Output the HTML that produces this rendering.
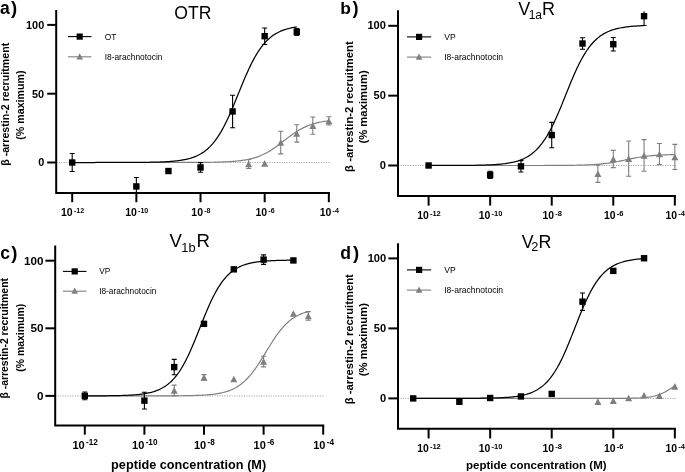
<!DOCTYPE html>
<html><head><meta charset="utf-8"><style>
html,body{margin:0;padding:0;background:#fff;overflow:hidden;width:685px;height:472px}
svg{display:block;will-change:transform}
text{font-family:"Liberation Sans",sans-serif;fill:#000}
</style></head><body>
<svg width="685" height="472" viewBox="0 0 685 472">
<rect width="685" height="472" fill="#fff"/>
<line x1="56.2" y1="162.5" x2="330" y2="162.5" stroke="#8c8c8c" stroke-width="0.75" stroke-dasharray="1.2,1.25"/>
<polyline points="72.2,162.5 73.8,162.5 75.41,162.5 77.01,162.5 78.62,162.5 80.22,162.5 81.82,162.5 83.43,162.5 85.03,162.5 86.64,162.5 88.24,162.5 89.84,162.5 91.45,162.5 93.05,162.5 94.66,162.5 96.26,162.5 97.86,162.5 99.47,162.5 101.07,162.5 102.68,162.5 104.28,162.5 105.88,162.5 107.49,162.5 109.09,162.5 110.7,162.5 112.3,162.5 113.9,162.5 115.51,162.5 117.11,162.5 118.72,162.5 120.32,162.5 121.92,162.5 123.53,162.5 125.13,162.5 126.74,162.5 128.34,162.5 129.94,162.5 131.55,162.5 133.15,162.5 134.76,162.5 136.36,162.5 137.96,162.5 139.57,162.5 141.17,162.5 142.78,162.5 144.38,162.5 145.98,162.5 147.59,162.5 149.19,162.5 150.8,162.5 152.4,162.5 154,162.5 155.61,162.5 157.21,162.5 158.82,162.49 160.42,162.49 162.02,162.49 163.63,162.49 165.23,162.49 166.84,162.49 168.44,162.49 170.04,162.49 171.65,162.49 173.25,162.48 174.86,162.48 176.46,162.48 178.06,162.48 179.67,162.48 181.27,162.47 182.88,162.47 184.48,162.47 186.08,162.46 187.69,162.46 189.29,162.45 190.9,162.45 192.5,162.44 194.1,162.43 195.71,162.42 197.31,162.41 198.92,162.4 200.52,162.39 202.12,162.38 203.73,162.36 205.33,162.35 206.94,162.33 208.54,162.31 210.14,162.28 211.75,162.26 213.35,162.23 214.96,162.2 216.56,162.16 218.16,162.12 219.77,162.07 221.37,162.02 222.98,161.96 224.58,161.9 226.18,161.82 227.79,161.74 229.39,161.65 231,161.55 232.6,161.44 234.2,161.31 235.81,161.17 237.41,161.01 239.02,160.84 240.62,160.65 242.22,160.43 243.83,160.19 245.43,159.93 247.04,159.63 248.64,159.31 250.24,158.95 251.85,158.56 253.45,158.13 255.06,157.65 256.66,157.14 258.26,156.57 259.87,155.96 261.47,155.29 263.08,154.57 264.68,153.8 266.28,152.97 267.89,152.09 269.49,151.15 271.1,150.16 272.7,149.12 274.3,148.03 275.91,146.9 277.51,145.73 279.12,144.53 280.72,143.31 282.32,142.07 283.93,140.83 285.53,139.58 287.14,138.34 288.74,137.12 290.34,135.92 291.95,134.76 293.55,133.63 295.16,132.54 296.76,131.5 298.36,130.51 299.97,129.57 301.57,128.69 303.18,127.86 304.78,127.08 306.38,126.37 307.99,125.7 309.59,125.09 311.2,124.52 312.8,124 314.4,123.53 316.01,123.1 317.61,122.7 319.22,122.35 320.82,122.02 322.42,121.73 324.03,121.46 325.63,121.22 327.24,121.01 328.84,120.82" fill="none" stroke="#7f7f7f" stroke-width="1.2"/>
<polyline points="72.2,162.5 73.6,162.5 75.01,162.5 76.41,162.5 77.81,162.5 79.22,162.5 80.62,162.5 82.02,162.5 83.43,162.5 84.83,162.5 86.23,162.5 87.64,162.5 89.04,162.5 90.45,162.5 91.85,162.5 93.25,162.5 94.66,162.5 96.06,162.49 97.46,162.49 98.87,162.49 100.27,162.49 101.67,162.49 103.08,162.49 104.48,162.49 105.88,162.49 107.29,162.49 108.69,162.49 110.09,162.49 111.5,162.48 112.9,162.48 114.31,162.48 115.71,162.48 117.11,162.48 118.52,162.47 119.92,162.47 121.32,162.47 122.73,162.47 124.13,162.46 125.53,162.46 126.94,162.45 128.34,162.45 129.74,162.44 131.15,162.44 132.55,162.43 133.95,162.42 135.36,162.42 136.76,162.41 138.16,162.4 139.57,162.39 140.97,162.37 142.38,162.36 143.78,162.35 145.18,162.33 146.59,162.31 147.99,162.29 149.39,162.27 150.8,162.24 152.2,162.22 153.6,162.19 155.01,162.15 156.41,162.12 157.81,162.08 159.22,162.03 160.62,161.98 162.02,161.93 163.43,161.87 164.83,161.8 166.23,161.73 167.64,161.65 169.04,161.56 170.44,161.46 171.85,161.35 173.25,161.23 174.66,161.09 176.06,160.95 177.46,160.78 178.87,160.61 180.27,160.41 181.67,160.19 183.08,159.95 184.48,159.68 185.88,159.39 187.29,159.07 188.69,158.72 190.09,158.33 191.5,157.9 192.9,157.43 194.3,156.92 195.71,156.35 197.11,155.73 198.51,155.05 199.92,154.31 201.32,153.5 202.73,152.61 204.13,151.65 205.53,150.6 206.94,149.46 208.34,148.22 209.74,146.88 211.15,145.43 212.55,143.86 213.95,142.18 215.36,140.37 216.76,138.44 218.16,136.37 219.57,134.17 220.97,131.84 222.37,129.37 223.78,126.77 225.18,124.04 226.58,121.19 227.99,118.22 229.39,115.14 230.8,111.96 232.2,108.7 233.6,105.37 235.01,101.98 236.41,98.54 237.81,95.09 239.22,91.62 240.62,88.17 242.02,84.74 243.43,81.36 244.83,78.04 246.23,74.79 247.64,71.64 249.04,68.58 250.44,65.63 251.85,62.8 253.25,60.1 254.65,57.53 256.06,55.09 257.46,52.78 258.87,50.61 260.27,48.57 261.67,46.66 263.08,44.88 264.48,43.22 265.88,41.67 267.29,40.25 268.69,38.93 270.09,37.71 271.5,36.58 272.9,35.55 274.3,34.6 275.71,33.73 277.11,32.94 278.51,32.21 279.92,31.54 281.32,30.93 282.72,30.38 284.13,29.87 285.53,29.41 286.94,28.99 288.34,28.61 289.74,28.26 291.15,27.95 292.55,27.66 293.95,27.4 295.36,27.17 296.76,26.95" fill="none" stroke="#000" stroke-width="1.25"/>
<path d="M248.64,159.47V168.55M246.14,159.47h5M246.14,168.55h5" stroke="#7f7f7f" stroke-width="1.1" fill="none"/>
<path d="M248.64,160.71L252.14,167.31L245.14,167.31Z" fill="#7f7f7f"/>
<path d="M264.68,160.09L268.18,166.69L261.18,166.69Z" fill="#7f7f7f"/>
<path d="M280.72,131.26V153.83M278.22,131.26h5M278.22,153.83h5" stroke="#7f7f7f" stroke-width="1.1" fill="none"/>
<path d="M280.72,139.25L284.22,145.85L277.22,145.85Z" fill="#7f7f7f"/>
<path d="M296.76,124.8V142.14M294.26,124.8h5M294.26,142.14h5" stroke="#7f7f7f" stroke-width="1.1" fill="none"/>
<path d="M296.76,130.17L300.26,136.77L293.26,136.77Z" fill="#7f7f7f"/>
<path d="M312.8,116.95V134.29M310.3,116.95h5M310.3,134.29h5" stroke="#7f7f7f" stroke-width="1.1" fill="none"/>
<path d="M312.8,122.32L316.3,128.92L309.3,128.92Z" fill="#7f7f7f"/>
<path d="M328.84,116.82V125.07M326.34,116.82h5M326.34,125.07h5" stroke="#7f7f7f" stroke-width="1.1" fill="none"/>
<path d="M328.84,117.64L332.34,124.24L325.34,124.24Z" fill="#7f7f7f"/>
<path d="M72.2,153.56V171.44M69.7,153.56h5M69.7,171.44h5" stroke="#000" stroke-width="1.1" fill="none"/>
<rect x="69" y="159.3" width="6.4" height="6.4" fill="#000"/>
<path d="M136.36,177.5V192.9M133.86,177.5h5" stroke="#000" stroke-width="1.1" fill="none"/>
<rect x="133.16" y="183.24" width="6.4" height="6.4" fill="#000"/>
<rect x="165.24" y="167.83" width="6.4" height="6.4" fill="#000"/>
<path d="M200.52,162.64V172.27M198.02,162.64h5M198.02,172.27h5" stroke="#000" stroke-width="1.1" fill="none"/>
<rect x="197.32" y="164.25" width="6.4" height="6.4" fill="#000"/>
<path d="M232.6,95.21V127.69M230.1,95.21h5M230.1,127.69h5" stroke="#000" stroke-width="1.1" fill="none"/>
<rect x="229.4" y="108.25" width="6.4" height="6.4" fill="#000"/>
<path d="M264.68,27.93V44.44M262.18,27.93h5M262.18,44.44h5" stroke="#000" stroke-width="1.1" fill="none"/>
<rect x="261.48" y="32.98" width="6.4" height="6.4" fill="#000"/>
<path d="M296.76,28.48V35.36M294.26,28.48h5M294.26,35.36h5" stroke="#000" stroke-width="1.1" fill="none"/>
<rect x="293.56" y="28.72" width="6.4" height="6.4" fill="#000"/>
<path d="M56.2,10V192.9H330" stroke="#000" stroke-width="2.0" fill="none" stroke-linejoin="miter"/>
<line x1="47.2" y1="162.5" x2="56.2" y2="162.5" stroke="#000" stroke-width="2.0"/>
<text x="44.2" y="166.4" text-anchor="end" font-weight="bold" font-size="10.9">0</text>
<line x1="47.2" y1="93.7" x2="56.2" y2="93.7" stroke="#000" stroke-width="2.0"/>
<text x="44.2" y="97.6" text-anchor="end" font-weight="bold" font-size="10.9">50</text>
<line x1="47.2" y1="24.9" x2="56.2" y2="24.9" stroke="#000" stroke-width="2.0"/>
<text x="44.2" y="28.8" text-anchor="end" font-weight="bold" font-size="10.9">100</text>
<line x1="72.2" y1="192.9" x2="72.2" y2="202.2" stroke="#000" stroke-width="2.0"/>
<text x="72.6" y="216.2" text-anchor="middle" font-weight="bold" font-size="10.5">10<tspan font-size="7.1" dx="1.2" dy="-3.2">-12</tspan></text>
<line x1="136.36" y1="192.9" x2="136.36" y2="202.2" stroke="#000" stroke-width="2.0"/>
<text x="136.76" y="216.2" text-anchor="middle" font-weight="bold" font-size="10.5">10<tspan font-size="7.1" dx="1.2" dy="-3.2">-10</tspan></text>
<line x1="200.52" y1="192.9" x2="200.52" y2="202.2" stroke="#000" stroke-width="2.0"/>
<text x="200.92" y="216.2" text-anchor="middle" font-weight="bold" font-size="10.5">10<tspan font-size="7.1" dx="1.2" dy="-3.2">-8</tspan></text>
<line x1="264.68" y1="192.9" x2="264.68" y2="202.2" stroke="#000" stroke-width="2.0"/>
<text x="265.08" y="216.2" text-anchor="middle" font-weight="bold" font-size="10.5">10<tspan font-size="7.1" dx="1.2" dy="-3.2">-6</tspan></text>
<line x1="328.84" y1="192.9" x2="328.84" y2="202.2" stroke="#000" stroke-width="2.0"/>
<text x="329.24" y="216.2" text-anchor="middle" font-weight="bold" font-size="10.5">10<tspan font-size="7.1" dx="1.2" dy="-3.2">-4</tspan></text>
<text x="174.3" y="18.5" font-size="17.6">OTR</text>
<text x="0.1" y="13.9" font-weight="bold" font-size="17.6">a</text>
<text x="11.0" y="13.9" font-weight="bold" font-size="18.5">)</text>
<line x1="67.9" y1="36.6" x2="91.5" y2="36.6" stroke="#000" stroke-width="1.1"/>
<rect x="76.6" y="33.5" width="6.2" height="6.2" fill="#000"/>
<line x1="67.9" y1="56.8" x2="91.5" y2="56.8" stroke="#7f7f7f" stroke-width="1.1"/>
<path d="M79.7,53.2L83,59.4L76.4,59.4Z" fill="#7f7f7f"/>
<text x="104.7" y="39.6" font-size="8.4">OT</text>
<text x="104.7" y="59.8" font-size="8.4">I8-arachnotocin</text>
<text transform="translate(8.6,104.3) rotate(-90)" text-anchor="middle" font-weight="bold" font-size="10.65">β -arrestin-2 recruitment</text>
<text transform="translate(24.2,105.1) rotate(-90)" text-anchor="middle" font-weight="bold" font-size="10.65">(% maximum)</text>
<line x1="398" y1="165.5" x2="675.9" y2="165.5" stroke="#8c8c8c" stroke-width="0.75" stroke-dasharray="1.2,1.25"/>
<polyline points="428.6,165.5 430.14,165.5 431.68,165.5 433.22,165.5 434.76,165.5 436.3,165.5 437.83,165.5 439.37,165.5 440.91,165.5 442.45,165.5 443.99,165.5 445.53,165.5 447.07,165.5 448.61,165.5 450.15,165.5 451.69,165.5 453.22,165.5 454.76,165.5 456.3,165.5 457.84,165.5 459.38,165.5 460.92,165.5 462.46,165.5 464,165.5 465.54,165.5 467.08,165.5 468.61,165.5 470.15,165.5 471.69,165.5 473.23,165.5 474.77,165.5 476.31,165.5 477.85,165.5 479.39,165.5 480.93,165.5 482.47,165.5 484,165.5 485.54,165.5 487.08,165.5 488.62,165.5 490.16,165.5 491.7,165.5 493.24,165.5 494.78,165.5 496.32,165.5 497.86,165.5 499.39,165.5 500.93,165.5 502.47,165.5 504.01,165.5 505.55,165.5 507.09,165.5 508.63,165.5 510.17,165.5 511.71,165.5 513.25,165.5 514.78,165.5 516.32,165.5 517.86,165.5 519.4,165.5 520.94,165.5 522.48,165.5 524.02,165.49 525.56,165.49 527.1,165.49 528.63,165.49 530.17,165.49 531.71,165.49 533.25,165.49 534.79,165.49 536.33,165.49 537.87,165.48 539.41,165.48 540.95,165.48 542.49,165.48 544.03,165.48 545.56,165.47 547.1,165.47 548.64,165.46 550.18,165.46 551.72,165.46 553.26,165.45 554.8,165.44 556.34,165.44 557.88,165.43 559.41,165.42 560.95,165.41 562.49,165.4 564.03,165.39 565.57,165.38 567.11,165.36 568.65,165.34 570.19,165.33 571.73,165.3 573.27,165.28 574.81,165.26 576.34,165.23 577.88,165.19 579.42,165.16 580.96,165.12 582.5,165.07 584.04,165.02 585.58,164.97 587.12,164.9 588.66,164.84 590.2,164.76 591.73,164.68 593.27,164.59 594.81,164.48 596.35,164.37 597.89,164.25 599.43,164.12 600.97,163.97 602.51,163.81 604.05,163.64 605.59,163.46 607.12,163.26 608.66,163.04 610.2,162.81 611.74,162.57 613.28,162.32 614.82,162.05 616.36,161.77 617.9,161.48 619.44,161.18 620.98,160.87 622.51,160.55 624.05,160.23 625.59,159.91 627.13,159.59 628.67,159.27 630.21,158.96 631.75,158.65 633.29,158.35 634.83,158.06 636.37,157.77 637.9,157.51 639.44,157.25 640.98,157.01 642.52,156.78 644.06,156.57 645.6,156.37 647.14,156.18 648.68,156.01 650.22,155.85 651.75,155.71 653.29,155.57 654.83,155.45 656.37,155.34 657.91,155.24 659.45,155.15 660.99,155.06 662.53,154.99 664.07,154.92 665.61,154.86 667.14,154.8 668.68,154.75 670.22,154.71 671.76,154.67 673.3,154.63 674.84,154.6" fill="none" stroke="#7f7f7f" stroke-width="1.2"/>
<polyline points="428.6,165.49 429.95,165.49 431.29,165.49 432.64,165.49 433.99,165.49 435.33,165.49 436.68,165.49 438.03,165.48 439.37,165.48 440.72,165.48 442.07,165.48 443.41,165.48 444.76,165.47 446.11,165.47 447.45,165.47 448.8,165.47 450.15,165.46 451.49,165.46 452.84,165.45 454.19,165.45 455.53,165.44 456.88,165.44 458.23,165.43 459.57,165.42 460.92,165.42 462.27,165.41 463.61,165.4 464.96,165.39 466.31,165.38 467.65,165.37 469,165.35 470.35,165.34 471.69,165.32 473.04,165.3 474.39,165.29 475.73,165.26 477.08,165.24 478.43,165.21 479.77,165.19 481.12,165.15 482.47,165.12 483.81,165.08 485.16,165.04 486.5,164.99 487.85,164.94 489.2,164.89 490.54,164.82 491.89,164.76 493.24,164.68 494.58,164.6 495.93,164.51 497.28,164.41 498.62,164.3 499.97,164.19 501.32,164.06 502.66,163.91 504.01,163.75 505.36,163.58 506.7,163.39 508.05,163.18 509.4,162.96 510.74,162.7 512.09,162.43 513.44,162.13 514.78,161.8 516.13,161.44 517.48,161.04 518.82,160.61 520.17,160.14 521.52,159.62 522.86,159.06 524.21,158.45 525.56,157.78 526.9,157.05 528.25,156.26 529.6,155.39 530.94,154.46 532.29,153.44 533.64,152.35 534.98,151.16 536.33,149.88 537.68,148.5 539.02,147.02 540.37,145.43 541.72,143.73 543.06,141.91 544.41,139.97 545.76,137.91 547.1,135.73 548.45,133.42 549.8,130.99 551.14,128.44 552.49,125.77 553.84,122.99 555.18,120.1 556.53,117.11 557.88,114.03 559.22,110.87 560.57,107.65 561.92,104.37 563.26,101.05 564.61,97.7 565.96,94.34 567.3,90.99 568.65,87.65 570,84.35 571.34,81.1 572.69,77.91 574.04,74.8 575.38,71.77 576.73,68.84 578.08,66.01 579.42,63.29 580.77,60.69 582.12,58.21 583.46,55.85 584.81,53.61 586.16,51.5 587.5,49.51 588.85,47.64 590.2,45.89 591.54,44.25 592.89,42.72 594.23,41.3 595.58,39.98 596.93,38.75 598.27,37.62 599.62,36.57 600.97,35.6 602.31,34.71 603.66,33.89 605.01,33.13 606.35,32.44 607.7,31.8 609.05,31.21 610.39,30.68 611.74,30.19 613.09,29.74 614.43,29.33 615.78,28.95 617.13,28.61 618.47,28.3 619.82,28.01 621.17,27.75 622.51,27.51 623.86,27.3 625.21,27.1 626.55,26.92 627.9,26.76 629.25,26.61 630.59,26.47 631.94,26.35 633.29,26.23 634.63,26.13 635.98,26.04 637.33,25.95 638.67,25.88 640.02,25.81 641.37,25.74 642.71,25.68 644.06,25.63" fill="none" stroke="#000" stroke-width="1.25"/>
<path d="M597.89,165.08V182.4M595.39,165.08h5M595.39,182.4h5" stroke="#7f7f7f" stroke-width="1.1" fill="none"/>
<path d="M597.89,170.44L601.39,177.04L594.39,177.04Z" fill="#7f7f7f"/>
<path d="M613.28,150.34V167.67M610.78,150.34h5M610.78,167.67h5" stroke="#7f7f7f" stroke-width="1.1" fill="none"/>
<path d="M613.28,155.7L616.78,162.3L609.78,162.3Z" fill="#7f7f7f"/>
<path d="M628.67,141.05V176.26M626.17,141.05h5M626.17,176.26h5" stroke="#7f7f7f" stroke-width="1.1" fill="none"/>
<path d="M628.67,155.35L632.17,161.95L625.17,161.95Z" fill="#7f7f7f"/>
<path d="M644.06,139.66V171.23M641.56,139.66h5M641.56,171.23h5" stroke="#7f7f7f" stroke-width="1.1" fill="none"/>
<path d="M644.06,152.14L647.56,158.74L640.56,158.74Z" fill="#7f7f7f"/>
<path d="M659.45,143.43V164.66M656.95,143.43h5M656.95,164.66h5" stroke="#7f7f7f" stroke-width="1.1" fill="none"/>
<path d="M659.45,150.74L662.95,157.34L655.95,157.34Z" fill="#7f7f7f"/>
<path d="M674.84,144.41V169.55M672.34,144.41h5M672.34,169.55h5" stroke="#7f7f7f" stroke-width="1.1" fill="none"/>
<path d="M674.84,153.68L678.34,160.28L671.34,160.28Z" fill="#7f7f7f"/>
<rect x="425.4" y="162.3" width="6.4" height="6.4" fill="#000"/>
<path d="M490.16,171.23V178.49M487.66,171.23h5M487.66,178.49h5" stroke="#000" stroke-width="1.1" fill="none"/>
<rect x="486.96" y="171.66" width="6.4" height="6.4" fill="#000"/>
<path d="M520.94,160.61V172.07M518.44,160.61h5M518.44,172.07h5" stroke="#000" stroke-width="1.1" fill="none"/>
<rect x="517.74" y="163.14" width="6.4" height="6.4" fill="#000"/>
<path d="M551.72,122.33V147.76M549.22,122.33h5M549.22,147.76h5" stroke="#000" stroke-width="1.1" fill="none"/>
<rect x="548.52" y="131.85" width="6.4" height="6.4" fill="#000"/>
<path d="M582.5,37.81V49.27M580,37.81h5M580,49.27h5" stroke="#000" stroke-width="1.1" fill="none"/>
<rect x="579.3" y="40.34" width="6.4" height="6.4" fill="#000"/>
<path d="M613.28,37.53V50.95M610.78,37.53h5M610.78,50.95h5" stroke="#000" stroke-width="1.1" fill="none"/>
<rect x="610.08" y="41.04" width="6.4" height="6.4" fill="#000"/>
<path d="M644.06,11.2V25.52M641.56,25.52h5" stroke="#000" stroke-width="1.1" fill="none"/>
<rect x="640.86" y="12.96" width="6.4" height="6.4" fill="#000"/>
<path d="M398,10.2V196H675.9" stroke="#000" stroke-width="2.0" fill="none" stroke-linejoin="miter"/>
<line x1="388.2" y1="165.5" x2="398" y2="165.5" stroke="#000" stroke-width="2.0"/>
<text x="385.9" y="169.1" text-anchor="end" font-weight="bold" font-size="11.1">0</text>
<line x1="388.2" y1="95.65" x2="398" y2="95.65" stroke="#000" stroke-width="2.0"/>
<text x="385.9" y="99.25" text-anchor="end" font-weight="bold" font-size="11.1">50</text>
<line x1="388.2" y1="25.8" x2="398" y2="25.8" stroke="#000" stroke-width="2.0"/>
<text x="385.9" y="29.4" text-anchor="end" font-weight="bold" font-size="11.1">100</text>
<line x1="428.6" y1="196" x2="428.6" y2="205.6" stroke="#000" stroke-width="2.0"/>
<text x="429" y="219" text-anchor="middle" font-weight="bold" font-size="10.4">10<tspan font-size="7.5" dx="1.2" dy="-2.9">-12</tspan></text>
<line x1="490.16" y1="196" x2="490.16" y2="205.6" stroke="#000" stroke-width="2.0"/>
<text x="490.56" y="219" text-anchor="middle" font-weight="bold" font-size="10.4">10<tspan font-size="7.5" dx="1.2" dy="-2.9">-10</tspan></text>
<line x1="551.72" y1="196" x2="551.72" y2="205.6" stroke="#000" stroke-width="2.0"/>
<text x="552.12" y="219" text-anchor="middle" font-weight="bold" font-size="10.4">10<tspan font-size="7.5" dx="1.2" dy="-2.9">-8</tspan></text>
<line x1="613.28" y1="196" x2="613.28" y2="205.6" stroke="#000" stroke-width="2.0"/>
<text x="613.68" y="219" text-anchor="middle" font-weight="bold" font-size="10.4">10<tspan font-size="7.5" dx="1.2" dy="-2.9">-6</tspan></text>
<line x1="674.84" y1="196" x2="674.84" y2="205.6" stroke="#000" stroke-width="2.0"/>
<text x="675.24" y="219" text-anchor="middle" font-weight="bold" font-size="10.4">10<tspan font-size="7.5" dx="1.2" dy="-2.9">-4</tspan></text>
<text x="518.3" y="14.6" font-size="18">V</text><text x="528.7" y="18.5" font-size="12">1a</text><text x="541.9" y="14.6" font-size="18">R</text>
<text x="340.3" y="13.6" font-weight="bold" font-size="17.4">b</text>
<text x="352.6" y="13.6" font-weight="bold" font-size="18.3">)</text>
<line x1="407" y1="36.9" x2="431.2" y2="36.9" stroke="#000" stroke-width="1.1"/>
<rect x="416" y="33.8" width="6.2" height="6.2" fill="#000"/>
<line x1="407" y1="57.1" x2="431.2" y2="57.1" stroke="#7f7f7f" stroke-width="1.1"/>
<path d="M419.1,53.5L422.4,59.7L415.8,59.7Z" fill="#7f7f7f"/>
<text x="444.2" y="39.9" font-size="8.55">VP</text>
<text x="444.2" y="60.1" font-size="8.55">I8-arachnotocin</text>
<text transform="translate(353.0,106.6) rotate(-90)" text-anchor="middle" font-weight="bold" font-size="11.3">β -arrestin-2 recruitment</text>
<text transform="translate(366.6,106.9) rotate(-90)" text-anchor="middle" font-weight="bold" font-size="11.3">(% maximum)</text>
<line x1="55.2" y1="395.9" x2="324.2" y2="395.9" stroke="#8c8c8c" stroke-width="0.75" stroke-dasharray="1.2,1.25"/>
<polyline points="84.8,395.9 86.2,395.9 87.59,395.9 88.99,395.9 90.39,395.9 91.78,395.9 93.18,395.9 94.58,395.9 95.97,395.9 97.37,395.9 98.77,395.9 100.17,395.9 101.56,395.9 102.96,395.9 104.36,395.9 105.75,395.9 107.15,395.9 108.55,395.9 109.94,395.9 111.34,395.9 112.74,395.9 114.13,395.9 115.53,395.9 116.93,395.9 118.32,395.9 119.72,395.9 121.12,395.9 122.52,395.9 123.91,395.9 125.31,395.9 126.71,395.9 128.1,395.9 129.5,395.9 130.9,395.9 132.29,395.9 133.69,395.9 135.09,395.9 136.48,395.89 137.88,395.89 139.28,395.89 140.68,395.89 142.07,395.89 143.47,395.89 144.87,395.89 146.26,395.89 147.66,395.89 149.06,395.89 150.45,395.88 151.85,395.88 153.25,395.88 154.64,395.88 156.04,395.88 157.44,395.87 158.83,395.87 160.23,395.87 161.63,395.86 163.03,395.86 164.42,395.86 165.82,395.85 167.22,395.85 168.61,395.84 170.01,395.83 171.41,395.83 172.8,395.82 174.2,395.81 175.6,395.8 176.99,395.79 178.39,395.78 179.79,395.76 181.18,395.75 182.58,395.73 183.98,395.71 185.38,395.69 186.77,395.67 188.17,395.64 189.57,395.61 190.96,395.58 192.36,395.55 193.76,395.51 195.15,395.47 196.55,395.42 197.95,395.37 199.34,395.31 200.74,395.24 202.14,395.17 203.53,395.09 204.93,395 206.33,394.91 207.72,394.8 209.12,394.68 210.52,394.55 211.92,394.4 213.31,394.24 214.71,394.06 216.11,393.86 217.5,393.64 218.9,393.4 220.3,393.13 221.69,392.83 223.09,392.51 224.49,392.15 225.88,391.75 227.28,391.32 228.68,390.84 230.07,390.32 231.47,389.75 232.87,389.12 234.27,388.44 235.66,387.69 237.06,386.88 238.46,385.99 239.85,385.04 241.25,384 242.65,382.88 244.04,381.68 245.44,380.38 246.84,379 248.23,377.52 249.63,375.96 251.03,374.3 252.43,372.55 253.82,370.71 255.22,368.78 256.62,366.78 258.01,364.71 259.41,362.57 260.81,360.38 262.2,358.14 263.6,355.88 265,353.58 266.39,351.29 267.79,348.99 269.19,346.71 270.58,344.46 271.98,342.25 273.38,340.09 274.77,337.99 276.17,335.95 277.57,334 278.97,332.12 280.36,330.34 281.76,328.64 283.16,327.03 284.55,325.52 285.95,324.1 287.35,322.77 288.74,321.53 290.14,320.37 291.54,319.3 292.93,318.31 294.33,317.4 295.73,316.56 297.12,315.78 298.52,315.07 299.92,314.42 301.32,313.83 302.71,313.29 304.11,312.79 305.51,312.34 306.9,311.93 308.3,311.56" fill="none" stroke="#7f7f7f" stroke-width="1.2"/>
<polyline points="84.8,395.87 86.1,395.87 87.41,395.87 88.71,395.86 90.02,395.86 91.32,395.86 92.62,395.85 93.93,395.85 95.23,395.84 96.53,395.84 97.84,395.83 99.14,395.82 100.45,395.81 101.75,395.81 103.05,395.8 104.36,395.79 105.66,395.77 106.96,395.76 108.27,395.75 109.57,395.73 110.88,395.72 112.18,395.7 113.48,395.68 114.79,395.65 116.09,395.63 117.39,395.6 118.7,395.57 120,395.54 121.3,395.5 122.61,395.46 123.91,395.41 125.22,395.37 126.52,395.31 127.82,395.25 129.13,395.19 130.43,395.11 131.73,395.04 133.04,394.95 134.34,394.85 135.65,394.75 136.95,394.63 138.25,394.5 139.56,394.36 140.86,394.21 142.17,394.04 143.47,393.85 144.77,393.65 146.08,393.43 147.38,393.18 148.68,392.91 149.99,392.61 151.29,392.29 152.6,391.93 153.9,391.54 155.2,391.11 156.51,390.65 157.81,390.14 159.11,389.58 160.42,388.97 161.72,388.3 163.03,387.58 164.33,386.79 165.63,385.94 166.94,385 168.24,384 169.54,382.9 170.85,381.72 172.15,380.44 173.45,379.07 174.76,377.59 176.06,376 177.37,374.3 178.67,372.49 179.97,370.56 181.28,368.5 182.58,366.32 183.88,364.03 185.19,361.61 186.49,359.07 187.8,356.41 189.1,353.65 190.4,350.79 191.71,347.83 193.01,344.78 194.32,341.66 195.62,338.48 196.92,335.25 198.23,331.99 199.53,328.71 200.83,325.43 202.14,322.16 203.44,318.91 204.75,315.71 206.05,312.56 207.35,309.48 208.66,306.48 209.96,303.57 211.26,300.76 212.57,298.06 213.87,295.46 215.18,292.99 216.48,290.64 217.78,288.4 219.09,286.29 220.39,284.3 221.69,282.44 223,280.68 224.3,279.05 225.61,277.52 226.91,276.1 228.21,274.78 229.52,273.55 230.82,272.42 232.12,271.37 233.43,270.4 234.73,269.51 236.04,268.7 237.34,267.94 238.64,267.25 239.95,266.62 241.25,266.04 242.55,265.51 243.86,265.02 245.16,264.57 246.46,264.17 247.77,263.8 249.07,263.46 250.38,263.15 251.68,262.87 252.98,262.61 254.29,262.37 255.59,262.16 256.9,261.97 258.2,261.79 259.5,261.63 260.81,261.48 262.11,261.35 263.41,261.23 264.72,261.12 266.02,261.02 267.32,260.93 268.63,260.84 269.93,260.77 271.24,260.7 272.54,260.64 273.84,260.58 275.15,260.53 276.45,260.48 277.75,260.44 279.06,260.4 280.36,260.37 281.67,260.34 282.97,260.31 284.27,260.28 285.58,260.26 286.88,260.24 288.19,260.22 289.49,260.2 290.79,260.18 292.1,260.17 293.4,260.16" fill="none" stroke="#000" stroke-width="1.25"/>
<path d="M174.2,385.08V395.63M171.7,385.08h5M171.7,395.63h5" stroke="#7f7f7f" stroke-width="1.1" fill="none"/>
<path d="M174.2,387.06L177.7,393.66L170.7,393.66Z" fill="#7f7f7f"/>
<path d="M204,374.67V380.08M201.5,374.67h5M201.5,380.08h5" stroke="#7f7f7f" stroke-width="1.1" fill="none"/>
<path d="M204,374.08L207.5,380.68L200.5,380.68Z" fill="#7f7f7f"/>
<path d="M233.8,375.7L237.3,382.3L230.3,382.3Z" fill="#7f7f7f"/>
<path d="M263.6,356.29V366.83M261.1,356.29h5M261.1,366.83h5" stroke="#7f7f7f" stroke-width="1.1" fill="none"/>
<path d="M263.6,358.26L267.1,364.86L260.1,364.86Z" fill="#7f7f7f"/>
<path d="M293.4,310.26L296.9,316.86L289.9,316.86Z" fill="#7f7f7f"/>
<path d="M308.3,311.67V320.32M305.8,311.67h5M305.8,320.32h5" stroke="#7f7f7f" stroke-width="1.1" fill="none"/>
<path d="M308.3,312.7L311.8,319.3L304.8,319.3Z" fill="#7f7f7f"/>
<path d="M84.8,391.98V399.82M82.3,391.98h5M82.3,399.82h5" stroke="#000" stroke-width="1.1" fill="none"/>
<rect x="81.6" y="392.7" width="6.4" height="6.4" fill="#000"/>
<path d="M144.4,392.25V409.01M141.9,392.25h5M141.9,409.01h5" stroke="#000" stroke-width="1.1" fill="none"/>
<rect x="141.2" y="397.43" width="6.4" height="6.4" fill="#000"/>
<path d="M174.2,359.4V374.81M171.7,359.4h5M171.7,374.81h5" stroke="#000" stroke-width="1.1" fill="none"/>
<rect x="171" y="363.9" width="6.4" height="6.4" fill="#000"/>
<rect x="200.8" y="320.64" width="6.4" height="6.4" fill="#000"/>
<rect x="230.6" y="266.15" width="6.4" height="6.4" fill="#000"/>
<path d="M263.6,254.89V264.35M261.1,254.89h5M261.1,264.35h5" stroke="#000" stroke-width="1.1" fill="none"/>
<rect x="260.4" y="256.42" width="6.4" height="6.4" fill="#000"/>
<rect x="290.2" y="257.23" width="6.4" height="6.4" fill="#000"/>
<path d="M55.2,245.6V425.4H324.2" stroke="#000" stroke-width="2.0" fill="none" stroke-linejoin="miter"/>
<line x1="45.4" y1="395.9" x2="55.2" y2="395.9" stroke="#000" stroke-width="2.0"/>
<text x="43.4" y="399.7" text-anchor="end" font-weight="bold" font-size="11.7">0</text>
<line x1="45.4" y1="328.3" x2="55.2" y2="328.3" stroke="#000" stroke-width="2.0"/>
<text x="43.4" y="332.1" text-anchor="end" font-weight="bold" font-size="11.7">50</text>
<line x1="45.4" y1="260.7" x2="55.2" y2="260.7" stroke="#000" stroke-width="2.0"/>
<text x="43.4" y="264.5" text-anchor="end" font-weight="bold" font-size="11.7">100</text>
<line x1="84.8" y1="425.4" x2="84.8" y2="434.7" stroke="#000" stroke-width="2.0"/>
<text x="85.2" y="448.8" text-anchor="middle" font-weight="bold" font-size="11.0">10<tspan font-size="8.2" dx="1.3" dy="-3.6">-12</tspan></text>
<line x1="144.4" y1="425.4" x2="144.4" y2="434.7" stroke="#000" stroke-width="2.0"/>
<text x="144.8" y="448.8" text-anchor="middle" font-weight="bold" font-size="11.0">10<tspan font-size="8.2" dx="1.3" dy="-3.6">-10</tspan></text>
<line x1="204" y1="425.4" x2="204" y2="434.7" stroke="#000" stroke-width="2.0"/>
<text x="204.4" y="448.8" text-anchor="middle" font-weight="bold" font-size="11.0">10<tspan font-size="8.2" dx="1.3" dy="-3.6">-8</tspan></text>
<line x1="263.6" y1="425.4" x2="263.6" y2="434.7" stroke="#000" stroke-width="2.0"/>
<text x="264" y="448.8" text-anchor="middle" font-weight="bold" font-size="11.0">10<tspan font-size="8.2" dx="1.3" dy="-3.6">-6</tspan></text>
<line x1="323.2" y1="425.4" x2="323.2" y2="434.7" stroke="#000" stroke-width="2.0"/>
<text x="323.6" y="448.8" text-anchor="middle" font-weight="bold" font-size="11.0">10<tspan font-size="8.2" dx="1.3" dy="-3.6">-4</tspan></text>
<text x="169.5" y="247.3" font-size="18.6">V</text><text x="181.3" y="251.5" font-size="12.8">1b</text><text x="196.6" y="247.3" font-size="18.6">R</text>
<text x="0.3" y="259.3" font-weight="bold" font-size="17.6">c</text>
<text x="11.2" y="259.3" font-weight="bold" font-size="18.5">)</text>
<line x1="62.9" y1="271.4" x2="86.5" y2="271.4" stroke="#000" stroke-width="1.1"/>
<rect x="71.6" y="268.3" width="6.2" height="6.2" fill="#000"/>
<line x1="62.9" y1="291.2" x2="86.5" y2="291.2" stroke="#7f7f7f" stroke-width="1.1"/>
<path d="M74.7,287.6L78,293.8L71.4,293.8Z" fill="#7f7f7f"/>
<text x="99.2" y="274.4" font-size="8.3">VP</text>
<text x="99.2" y="294.2" font-size="8.3">I8-arachnotocin</text>
<text transform="translate(8.3,338.3) rotate(-90)" text-anchor="middle" font-weight="bold" font-size="10.45">β -arrestin-2 recruitment</text>
<text transform="translate(23.9,337.8) rotate(-90)" text-anchor="middle" font-weight="bold" font-size="10.45">(% maximum)</text>
<text x="111.1" y="468.6" font-weight="bold" font-size="12.7">peptide concentration (M)</text>
<line x1="398" y1="398.4" x2="675.9" y2="398.4" stroke="#8c8c8c" stroke-width="0.75" stroke-dasharray="1.2,1.25"/>
<polyline points="413.21,398.4 414.85,398.4 416.48,398.4 418.12,398.4 419.75,398.4 421.39,398.4 423.02,398.4 424.66,398.4 426.29,398.4 427.93,398.4 429.56,398.4 431.2,398.4 432.83,398.4 434.47,398.4 436.1,398.4 437.74,398.4 439.37,398.4 441.01,398.4 442.64,398.4 444.28,398.4 445.91,398.4 447.55,398.4 449.18,398.4 450.82,398.4 452.45,398.4 454.09,398.4 455.72,398.4 457.36,398.4 459,398.4 460.63,398.4 462.27,398.4 463.9,398.4 465.54,398.4 467.17,398.4 468.81,398.4 470.44,398.4 472.08,398.4 473.71,398.4 475.35,398.4 476.98,398.4 478.62,398.4 480.25,398.4 481.89,398.4 483.52,398.4 485.16,398.4 486.79,398.4 488.43,398.4 490.06,398.4 491.7,398.4 493.33,398.4 494.97,398.4 496.6,398.4 498.24,398.4 499.87,398.4 501.51,398.4 503.15,398.4 504.78,398.4 506.42,398.4 508.05,398.4 509.69,398.4 511.32,398.4 512.96,398.4 514.59,398.4 516.23,398.4 517.86,398.4 519.5,398.4 521.13,398.4 522.77,398.4 524.4,398.4 526.04,398.4 527.67,398.4 529.31,398.4 530.94,398.4 532.58,398.4 534.21,398.4 535.85,398.4 537.48,398.4 539.12,398.4 540.75,398.4 542.39,398.4 544.03,398.4 545.66,398.4 547.3,398.4 548.93,398.4 550.57,398.4 552.2,398.4 553.84,398.4 555.47,398.4 557.11,398.4 558.74,398.4 560.38,398.4 562.01,398.4 563.65,398.4 565.28,398.4 566.92,398.4 568.55,398.4 570.19,398.4 571.82,398.4 573.46,398.4 575.09,398.4 576.73,398.4 578.36,398.4 580,398.4 581.63,398.4 583.27,398.4 584.9,398.4 586.54,398.4 588.18,398.4 589.81,398.4 591.45,398.4 593.08,398.4 594.72,398.4 596.35,398.4 597.99,398.4 599.62,398.4 601.26,398.4 602.89,398.39 604.53,398.39 606.16,398.39 607.8,398.39 609.43,398.39 611.07,398.39 612.7,398.38 614.34,398.38 615.97,398.37 617.61,398.37 619.24,398.36 620.88,398.35 622.51,398.34 624.15,398.33 625.78,398.31 627.42,398.3 629.05,398.27 630.69,398.25 632.33,398.21 633.96,398.17 635.6,398.13 637.23,398.07 638.87,398 640.5,397.91 642.14,397.81 643.77,397.69 645.41,397.54 647.04,397.36 648.68,397.15 650.31,396.9 651.95,396.61 653.58,396.26 655.22,395.85 656.85,395.38 658.49,394.84 660.12,394.22 661.76,393.53 663.39,392.76 665.03,391.92 666.66,391.01 668.3,390.05 669.93,389.04 671.57,388.02 673.2,387 674.84,385.99" fill="none" stroke="#7f7f7f" stroke-width="1.2"/>
<polyline points="413.21,398.4 414.65,398.4 416.1,398.4 417.54,398.4 418.98,398.4 420.42,398.4 421.87,398.4 423.31,398.4 424.75,398.4 426.2,398.4 427.64,398.4 429.08,398.4 430.52,398.4 431.97,398.4 433.41,398.4 434.85,398.39 436.3,398.39 437.74,398.39 439.18,398.39 440.62,398.39 442.07,398.39 443.51,398.39 444.95,398.39 446.39,398.39 447.84,398.39 449.28,398.38 450.72,398.38 452.17,398.38 453.61,398.38 455.05,398.38 456.49,398.37 457.94,398.37 459.38,398.37 460.82,398.36 462.27,398.36 463.71,398.36 465.15,398.35 466.59,398.35 468.04,398.34 469.48,398.33 470.92,398.33 472.37,398.32 473.81,398.31 475.25,398.3 476.69,398.29 478.14,398.27 479.58,398.26 481.02,398.24 482.47,398.23 483.91,398.21 485.35,398.19 486.79,398.16 488.24,398.14 489.68,398.11 491.12,398.08 492.56,398.04 494.01,398 495.45,397.96 496.89,397.91 498.34,397.85 499.78,397.79 501.22,397.73 502.66,397.65 504.11,397.57 505.55,397.48 506.99,397.38 508.44,397.27 509.88,397.15 511.32,397.01 512.76,396.86 514.21,396.69 515.65,396.5 517.09,396.3 518.54,396.07 519.98,395.82 521.42,395.54 522.86,395.23 524.31,394.89 525.75,394.51 527.19,394.09 528.63,393.63 530.08,393.13 531.52,392.57 532.96,391.95 534.41,391.28 535.85,390.54 537.29,389.72 538.73,388.83 540.18,387.85 541.62,386.78 543.06,385.62 544.51,384.35 545.95,382.97 547.39,381.47 548.83,379.85 550.28,378.09 551.72,376.21 553.16,374.18 554.61,372.01 556.05,369.69 557.49,367.22 558.93,364.61 560.38,361.84 561.82,358.94 563.26,355.9 564.71,352.73 566.15,349.45 567.59,346.05 569.03,342.57 570.48,339.01 571.92,335.39 573.36,331.73 574.81,328.05 576.25,324.37 577.69,320.71 579.13,317.09 580.58,313.53 582.02,310.05 583.46,306.65 584.9,303.37 586.35,300.2 587.79,297.16 589.23,294.26 590.68,291.49 592.12,288.88 593.56,286.41 595,284.09 596.45,281.92 597.89,279.89 599.33,278.01 600.78,276.25 602.22,274.63 603.66,273.13 605.1,271.75 606.55,270.48 607.99,269.32 609.43,268.25 610.88,267.27 612.32,266.38 613.76,265.56 615.2,264.82 616.65,264.15 618.09,263.53 619.53,262.97 620.98,262.47 622.42,262.01 623.86,261.59 625.3,261.21 626.75,260.87 628.19,260.56 629.63,260.28 631.07,260.03 632.52,259.8 633.96,259.6 635.4,259.41 636.85,259.24 638.29,259.09 639.73,258.95 641.17,258.83 642.62,258.72 644.06,258.62" fill="none" stroke="#000" stroke-width="1.25"/>
<path d="M597.89,398.32L601.39,404.92L594.39,404.92Z" fill="#7f7f7f"/>
<path d="M613.28,397.34L616.78,403.94L609.78,403.94Z" fill="#7f7f7f"/>
<path d="M628.67,394.68L632.17,401.28L625.17,401.28Z" fill="#7f7f7f"/>
<path d="M644.06,391.88L647.56,398.48L640.56,398.48Z" fill="#7f7f7f"/>
<path d="M659.45,392.3L662.95,398.9L655.95,398.9Z" fill="#7f7f7f"/>
<path d="M674.84,383.06L678.34,389.66L671.34,389.66Z" fill="#7f7f7f"/>
<rect x="410.01" y="395.2" width="6.4" height="6.4" fill="#000"/>
<rect x="456.18" y="398.56" width="6.4" height="6.4" fill="#000"/>
<rect x="486.96" y="394.78" width="6.4" height="6.4" fill="#000"/>
<rect x="517.74" y="393.24" width="6.4" height="6.4" fill="#000"/>
<rect x="548.52" y="390.72" width="6.4" height="6.4" fill="#000"/>
<path d="M582.5,292.98V310.34M580,292.98h5M580,310.34h5" stroke="#000" stroke-width="1.1" fill="none"/>
<rect x="579.3" y="298.46" width="6.4" height="6.4" fill="#000"/>
<rect x="610.08" y="267.66" width="6.4" height="6.4" fill="#000"/>
<rect x="640.86" y="255.06" width="6.4" height="6.4" fill="#000"/>
<path d="M398,243.2V428.8H675.9" stroke="#000" stroke-width="2.0" fill="none" stroke-linejoin="miter"/>
<line x1="388.4" y1="398.4" x2="398" y2="398.4" stroke="#000" stroke-width="2.0"/>
<text x="386.2" y="402.4" text-anchor="end" font-weight="bold" font-size="11.1">0</text>
<line x1="388.4" y1="328.4" x2="398" y2="328.4" stroke="#000" stroke-width="2.0"/>
<text x="386.2" y="332.4" text-anchor="end" font-weight="bold" font-size="11.1">50</text>
<line x1="388.4" y1="258.4" x2="398" y2="258.4" stroke="#000" stroke-width="2.0"/>
<text x="386.2" y="262.4" text-anchor="end" font-weight="bold" font-size="11.1">100</text>
<line x1="428.6" y1="428.8" x2="428.6" y2="438.4" stroke="#000" stroke-width="2.0"/>
<text x="429" y="451.8" text-anchor="middle" font-weight="bold" font-size="10.4">10<tspan font-size="7.5" dx="1.2" dy="-3">-12</tspan></text>
<line x1="490.16" y1="428.8" x2="490.16" y2="438.4" stroke="#000" stroke-width="2.0"/>
<text x="490.56" y="451.8" text-anchor="middle" font-weight="bold" font-size="10.4">10<tspan font-size="7.5" dx="1.2" dy="-3">-10</tspan></text>
<line x1="551.72" y1="428.8" x2="551.72" y2="438.4" stroke="#000" stroke-width="2.0"/>
<text x="552.12" y="451.8" text-anchor="middle" font-weight="bold" font-size="10.4">10<tspan font-size="7.5" dx="1.2" dy="-3">-8</tspan></text>
<line x1="613.28" y1="428.8" x2="613.28" y2="438.4" stroke="#000" stroke-width="2.0"/>
<text x="613.68" y="451.8" text-anchor="middle" font-weight="bold" font-size="10.4">10<tspan font-size="7.5" dx="1.2" dy="-3">-6</tspan></text>
<line x1="674.84" y1="428.8" x2="674.84" y2="438.4" stroke="#000" stroke-width="2.0"/>
<text x="675.24" y="451.8" text-anchor="middle" font-weight="bold" font-size="10.4">10<tspan font-size="7.5" dx="1.2" dy="-3">-4</tspan></text>
<text x="521.7" y="247.5" font-size="17.8">V</text><text x="531.3" y="251.2" font-size="12.8">2</text><text x="538.4" y="247.5" font-size="17.8">R</text>
<text x="340.2" y="259.1" font-weight="bold" font-size="17.6">d</text>
<text x="352.9" y="259.1" font-weight="bold" font-size="18.5">)</text>
<line x1="407" y1="269.9" x2="431.2" y2="269.9" stroke="#000" stroke-width="1.1"/>
<rect x="416" y="266.8" width="6.2" height="6.2" fill="#000"/>
<line x1="407" y1="290.1" x2="431.2" y2="290.1" stroke="#7f7f7f" stroke-width="1.1"/>
<path d="M419.1,286.5L422.4,292.7L415.8,292.7Z" fill="#7f7f7f"/>
<text x="444.2" y="272.9" font-size="8.55">VP</text>
<text x="444.2" y="293.1" font-size="8.55">I8-arachnotocin</text>
<text transform="translate(353.0,339.2) rotate(-90)" text-anchor="middle" font-weight="bold" font-size="11.25">β -arrestin-2 recruitment</text>
<text transform="translate(366.6,339.6) rotate(-90)" text-anchor="middle" font-weight="bold" font-size="11.25">(% maximum)</text>
<text x="466.0" y="469.1" font-weight="bold" font-size="11.5">peptide concentration (M)</text>
</svg></body></html>
